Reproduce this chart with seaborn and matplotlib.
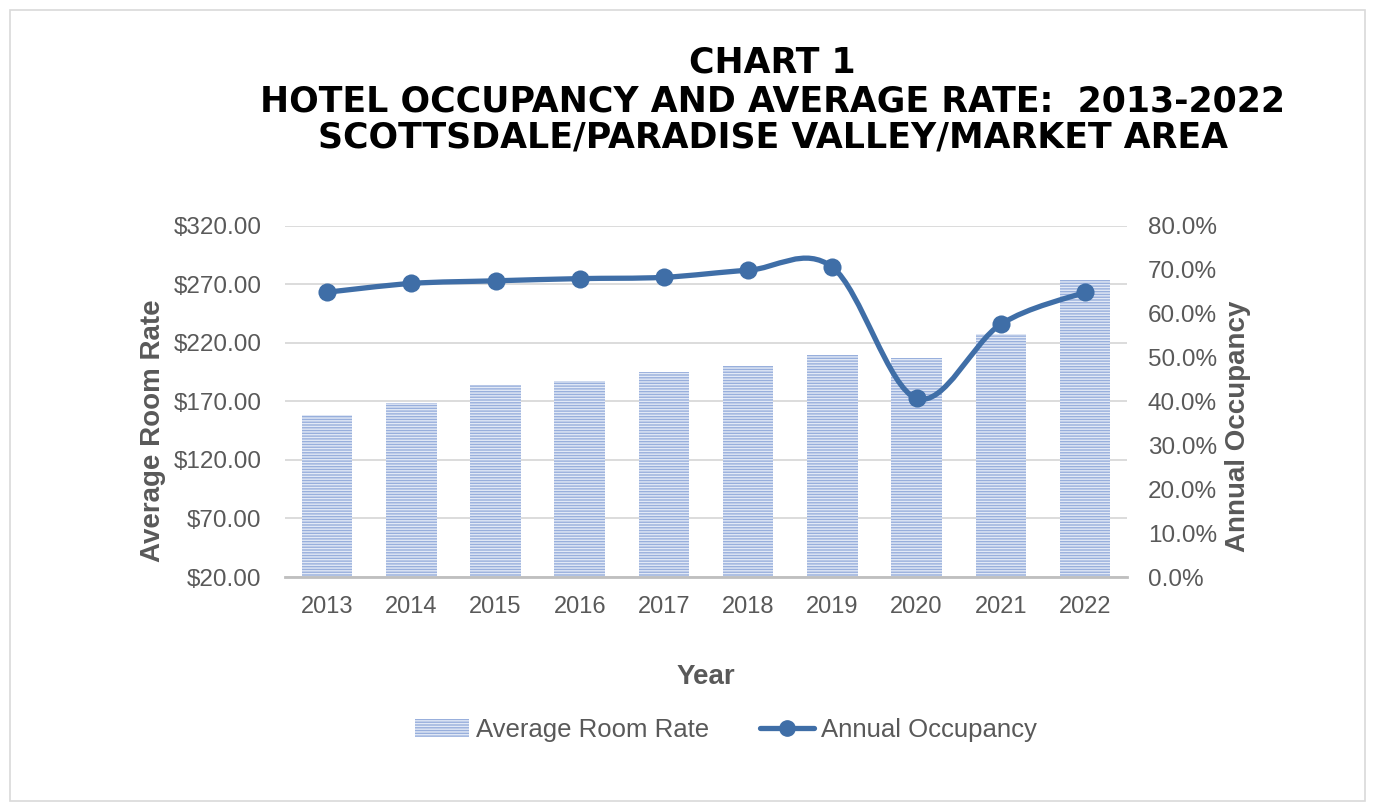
import matplotlib
matplotlib.use("Agg")
import matplotlib.pyplot as plt
import matplotlib.patches as mpatches
from matplotlib.lines import Line2D
from matplotlib.path import Path
from matplotlib.ticker import FuncFormatter
import numpy as np
import pandas as pd
import seaborn as sns

# data
years = ["2013", "2014", "2015", "2016", "2017", "2018", "2019", "2020", "2021", "2022"]
room_rate = [158.5, 169.0, 184.0, 187.5, 195.0, 200.0, 210.0, 207.5, 228.0, 273.5]
occupancy = [0.649, 0.669, 0.675, 0.680, 0.683, 0.699, 0.706, 0.407, 0.576, 0.649]

rate_ticks = [20, 70, 120, 170, 220, 270, 320]
occ_ticks = [0.0, 0.1, 0.2, 0.3, 0.4, 0.5, 0.6, 0.7, 0.8]

title_lines = [
    "CHART 1",
    "HOTEL OCCUPANCY AND AVERAGE RATE:  2013-2022",
    "SCOTTSDALE/PARADISE VALLEY/MARKET AREA",
]

LINE_BLUE = "#3f6ea7"
BAR_BLUE = "#98afdc"
STRIPE = "#e2e9f6"
GREY_TXT = "#595959"

sns.set_style("white")
plt.rcParams["font.family"] = ["Liberation Sans", "DejaVu Sans"]
plt.rcParams["hatch.linewidth"] = 1.0

df = pd.DataFrame({"year": years, "rate": room_rate, "occ": occupancy})

fig = plt.figure(figsize=(13.75, 8.07), dpi=100)
ax = fig.add_axes([0.2073, 0.285, 0.6124, 0.435])

# thin frame round the whole picture
fig.patches.append(mpatches.Rectangle((0.007, 0.008), 0.986, 0.98, transform=fig.transFigure,
                                      fill=False, edgecolor="#d9d9d9", linewidth=1.2))

sns.barplot(data=df, x="year", y="rate", ax=ax, color=BAR_BLUE, width=0.6,
            saturation=1, edgecolor=STRIPE, linewidth=0, hatch="------", zorder=2)

ax.set_ylim(20, 320)
ax.set_xlim(-0.5, len(years) - 0.5)
ax.set_yticks(rate_ticks)
ax.yaxis.set_major_formatter(FuncFormatter(lambda v, p: f"${v:,.2f}"))
ax.grid(axis="y", color="#d9d9d9", linewidth=1.3, zorder=0)
ax.set_axisbelow(True)
for s in ["top", "right", "left"]:
    ax.spines[s].set_visible(False)
ax.spines["bottom"].set_color("#bfbfbf")
ax.spines["bottom"].set_linewidth(2)
ax.tick_params(axis="y", length=0, labelsize=17.5, colors=GREY_TXT, pad=17)
ax.tick_params(axis="x", length=0, labelsize=17, colors=GREY_TXT, pad=14)
ax.set_xlabel("Year", fontsize=20, fontweight="bold", color=GREY_TXT, labelpad=33)
ax.set_ylabel("Average Room Rate", fontsize=20, fontweight="bold", color=GREY_TXT, labelpad=5)
ax.yaxis.label.set_y(0.416)

# occupancy on the secondary axis, smoothed like the spreadsheet line
ax2 = ax.twinx()
ax2.set_ylim(0, 0.8)
ax2.set_yticks(occ_ticks)
ax2.yaxis.set_major_formatter(FuncFormatter(lambda v, p: f"{v * 100:.1f}%"))
for s in ax2.spines.values():
    s.set_visible(False)
ax2.tick_params(axis="y", length=0, labelsize=17.5, colors=GREY_TXT, pad=15)
ax2.set_ylabel("Annual Occupancy", fontsize=20, fontweight="bold", color=GREY_TXT, labelpad=6)
ax2.yaxis.label.set_y(0.43)

pts = list(enumerate(occupancy))
verts = [pts[0]]
codes = [Path.MOVETO]
for i in range(len(pts) - 1):
    p0 = pts[max(i - 1, 0)]
    p1 = pts[i]
    p2 = pts[i + 1]
    p3 = pts[min(i + 2, len(pts) - 1)]
    c1 = (p1[0] + (p2[0] - p0[0]) / 6, p1[1] + (p2[1] - p0[1]) / 6)
    c2 = (p2[0] - (p3[0] - p1[0]) / 6, p2[1] - (p3[1] - p1[1]) / 6)
    verts += [c1, c2, p2]
    codes += [Path.CURVE4] * 3
ax2.add_patch(mpatches.PathPatch(Path(verts, codes), facecolor="none", edgecolor=LINE_BLUE,
                                 linewidth=3.8, capstyle="round", joinstyle="round", zorder=3))
sns.scatterplot(x=np.arange(len(years)), y=occupancy, ax=ax2, color=LINE_BLUE, s=170,
                edgecolor=LINE_BLUE, linewidth=0, zorder=4, legend=False)

# title
for txt, y in zip(title_lines, [0.922, 0.874, 0.829]):
    fig.text(0.562, y, txt, ha="center", va="center", fontsize=25, fontweight="bold",
             color="black", family=["DejaVu Sans"])

handles = [
    mpatches.Patch(facecolor=BAR_BLUE, edgecolor=STRIPE, linewidth=0, hatch="------",
                   label="Average Room Rate"),
    Line2D([0], [0], color=LINE_BLUE, linewidth=3.8, marker="o", markersize=11,
           label="Annual Occupancy"),
]
fig.legend(handles=handles, loc="center", bbox_to_anchor=(0.528, 0.095), ncol=2,
           frameon=False, fontsize=18.5, labelcolor=GREY_TXT, handlelength=2.1,
           handletextpad=0.25, columnspacing=2.0)

fig.savefig("out.png", dpi=100, facecolor="white")
